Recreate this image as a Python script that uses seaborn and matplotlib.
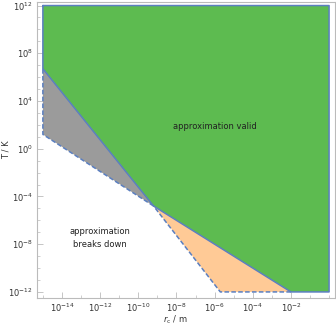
"""Validity regions of the approximation in the (r_c, T) plane."""

import matplotlib

matplotlib.use("Agg")
import matplotlib.pyplot as plt
import matplotlib.ticker as mticker
import seaborn as sns

# region corners (log-log plane)
R_STAR, T_STAR = 10 ** -9.2, 10 ** -4.8
valid_r = [1e-15, 1e0, 1e0, 1e-2, R_STAR, 1e-15]
valid_T = [1e12, 1e12, 1e-12, 1e-12, T_STAR, 10 ** 6.7]
grey_r = [1e-15, R_STAR, 1e-15]
grey_T = [10 ** 6.7, T_STAR, 10 ** 1.2]
orange_r = [R_STAR, 1e-2, 10 ** -5.7]
orange_T = [T_STAR, 1e-12, 1e-12]

x_ticks = [1e-14, 1e-12, 1e-10, 1e-8, 1e-6, 1e-4, 1e-2]
y_ticks = [1e-12, 1e-8, 1e-4, 1e0, 1e4, 1e8, 1e12]

GREEN = "#5DBB50"
GREY = "#9B9B9B"
PEACH = "#FFCA96"
EDGE = "#5B7FC0"
FRAME = "#BBBBBB"
TEXT = "#333333"

sns.set_theme(style="white")
plt.rcParams["font.family"] = ["DejaVu Sans"]

fig = plt.figure(figsize=(3.36, 3.27), dpi=100)
ax = fig.add_axes([0.110, 0.089, 0.887, 0.905])
ax.set_xscale("log")
ax.set_yscale("log")

ax.fill(valid_r, valid_T, color=GREEN, lw=0, zorder=1)
ax.fill(grey_r, grey_T, color=GREY, lw=0, zorder=1)
ax.fill(orange_r, orange_T, color=PEACH, lw=0, zorder=1)

# solid outline of the valid region
ax.plot(valid_r + valid_r[:1], valid_T + valid_T[:1], color=EDGE, lw=1.1, zorder=3)
# dashed outer edges of the breakdown wedges
ax.plot(grey_r[1:] + grey_r[:1], grey_T[1:] + grey_T[:1], color=EDGE, lw=1.1,
        ls=(0, (3, 1.5)), zorder=2)
ax.plot(orange_r[1:] + orange_r[:1], orange_T[1:] + orange_T[:1], color=EDGE, lw=1.1,
        ls=(0, (3, 1.5)), zorder=2)

ax.text(1e-6, 10 ** 1.9, "approximation valid", fontsize=6, color="#222222",
        ha="center", va="center")
ax.text(1e-12, 10 ** -7.5, "approximation\nbreaks down", fontsize=6, color="#222222",
        ha="center", va="center", linespacing=1.6)

ax.set_xlim(10 ** -15.31, 10 ** 0.31)
ax.set_ylim(10 ** -12.5, 10 ** 12.3)
ax.set_xticks(x_ticks)
ax.set_yticks(y_ticks)
ax.set_xticks([10.0 ** k for k in range(-15, 1)], minor=True)
ax.set_yticks([10.0 ** k for k in range(-12, 13)], minor=True)
ax.xaxis.set_minor_formatter(mticker.NullFormatter())
ax.yaxis.set_minor_formatter(mticker.NullFormatter())
ax.tick_params(which="major", direction="in", length=4, width=0.6, color=FRAME,
               labelsize=6, labelcolor=TEXT, pad=3)
ax.tick_params(which="minor", direction="in", length=2, width=0.5, color=FRAME)
ax.tick_params(axis="x", which="both", top=False, bottom=True)
ax.tick_params(axis="y", which="both", left=True, right=False)
for spine in ax.spines.values():
    spine.set_color(FRAME)
    spine.set_linewidth(0.8)

ax.set_xlabel(r"$r_{\rm c}$ / m", fontsize=6, color=TEXT, va="center")
ax.set_ylabel("T / K", fontsize=6, color=TEXT, va="center")
ax.xaxis.set_label_coords(0.463, -0.074)
ax.yaxis.set_label_coords(-0.104, 0.5)

fig.savefig("out.png", dpi=100)
